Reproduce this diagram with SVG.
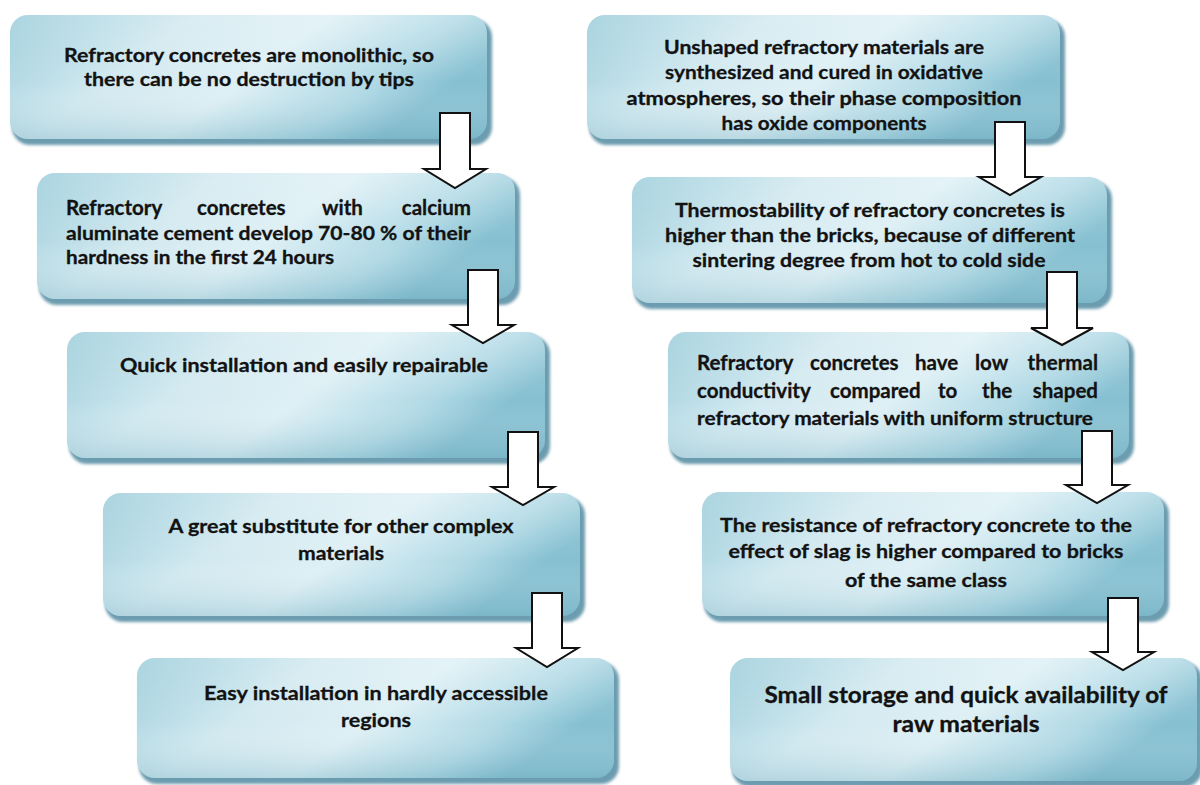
<svg xmlns="http://www.w3.org/2000/svg" width="1200" height="785" viewBox="0 0 1200 785">
  <defs>
    <linearGradient id="face" x1="0" y1="0" x2="1" y2="0.35">
      <stop offset="0" stop-color="#97cbd9"/>
      <stop offset="0.35" stop-color="#d2e9f0"/>
      <stop offset="0.6" stop-color="#def0f5"/>
      <stop offset="0.85" stop-color="#b0d9e5"/>
      <stop offset="1" stop-color="#86c0d1"/>
    </linearGradient>
    <linearGradient id="shade" x1="0" y1="0" x2="0" y2="1">
      <stop offset="0" stop-color="#ffffff" stop-opacity="0.2"/>
      <stop offset="0.55" stop-color="#ffffff" stop-opacity="0"/>
      <stop offset="1" stop-color="#5f9fb3" stop-opacity="0.28"/>
    </linearGradient>
    <filter id="soft" x="-5%" y="-10%" width="110%" height="125%">
      <feGaussianBlur stdDeviation="1.6"/>
    </filter>
  </defs>
  <style>
    .shadow { fill: #6c9caf; filter: url(#soft); }
    .face { fill: url(#face); }
    .gloss { fill: url(#shade); }
    .t { font-family: "Lato", "Open Sans", sans-serif; font-weight: bold; font-size: 19.5px; fill: #121212; stroke: #121212; stroke-width: 0.3px; }
    .w { font-size: 20.5px; }
    .c { text-anchor: middle; }
    .e { text-anchor: end; }
    .big { font-size: 22px; }
    .arrow { fill: #ffffff; stroke: #111111; stroke-width: 2; stroke-linejoin: miter; }
  </style>
  <rect width="1200" height="785" fill="#ffffff"/>

  <!-- left column -->
  <g id="node-l1">
    <rect class="shadow" x="12" y="19" width="480" height="126" rx="18"/>
    <rect class="face" x="10" y="15" width="477" height="124" rx="18"/>
    <rect class="gloss" x="10" y="15" width="477" height="124" rx="18"/>
    <text class="t c" x="249" y="62" textLength="370" lengthAdjust="spacingAndGlyphs">Refractory concretes are monolithic, so</text>
    <text class="t c" x="249" y="86" textLength="330" lengthAdjust="spacingAndGlyphs">there can be no destruction by tips</text>
  </g>
  <g id="node-l2">
    <rect class="shadow" x="39" y="177" width="481" height="128" rx="18"/>
    <rect class="face" x="37" y="173" width="478" height="126" rx="18"/>
    <rect class="gloss" x="37" y="173" width="478" height="126" rx="18"/>
    <text class="t w" x="66" y="215">Refractory</text>
    <text class="t w" x="197" y="215">concretes</text>
    <text class="t w" x="322" y="215">with</text>
    <text class="t w e" x="471" y="215">calcium</text>
    <text class="t" x="66" y="240" textLength="405" lengthAdjust="spacingAndGlyphs">aluminate cement develop 70-80 % of their</text>
    <text class="t" x="66" y="264" textLength="268" lengthAdjust="spacingAndGlyphs">hardness in the first 24 hours</text>
  </g>
  <g id="node-l3">
    <rect class="shadow" x="69" y="336" width="481" height="128" rx="18"/>
    <rect class="face" x="67" y="332" width="478" height="126" rx="18"/>
    <rect class="gloss" x="67" y="332" width="478" height="126" rx="18"/>
    <text class="t c" x="304" y="372" textLength="368" lengthAdjust="spacingAndGlyphs">Quick installation and easily repairable</text>
  </g>
  <g id="node-l4">
    <rect class="shadow" x="105" y="497" width="480" height="125" rx="18"/>
    <rect class="face" x="103" y="493" width="477" height="123" rx="18"/>
    <rect class="gloss" x="103" y="493" width="477" height="123" rx="18"/>
    <text class="t c" x="341" y="533" textLength="345" lengthAdjust="spacingAndGlyphs">A great substitute for other complex</text>
    <text class="t c" x="341" y="560" textLength="86" lengthAdjust="spacingAndGlyphs">materials</text>
  </g>
  <g id="node-l5">
    <rect class="shadow" x="139" y="662" width="480" height="122" rx="18"/>
    <rect class="face" x="137" y="658" width="477" height="120" rx="18"/>
    <rect class="gloss" x="137" y="658" width="477" height="120" rx="18"/>
    <text class="t c" x="376" y="700" textLength="344" lengthAdjust="spacingAndGlyphs">Easy installation in hardly accessible</text>
    <text class="t c" x="376" y="727" textLength="70" lengthAdjust="spacingAndGlyphs">regions</text>
  </g>

  <!-- right column -->
  <g id="node-r1">
    <rect class="shadow" x="589" y="19" width="476" height="126" rx="18"/>
    <rect class="face" x="587" y="15" width="473" height="124" rx="18"/>
    <rect class="gloss" x="587" y="15" width="473" height="124" rx="18"/>
    <text class="t c" x="824" y="54" textLength="320" lengthAdjust="spacingAndGlyphs">Unshaped refractory materials are</text>
    <text class="t c" x="824" y="79" textLength="318" lengthAdjust="spacingAndGlyphs">synthesized and cured in oxidative</text>
    <text class="t c" x="824" y="105" textLength="395" lengthAdjust="spacingAndGlyphs">atmospheres, so their phase composition</text>
    <text class="t c" x="824" y="130" textLength="205" lengthAdjust="spacingAndGlyphs">has oxide components</text>
  </g>
  <g id="node-r2">
    <rect class="shadow" x="634" y="181" width="478" height="128" rx="18"/>
    <rect class="face" x="632" y="177" width="475" height="126" rx="18"/>
    <rect class="gloss" x="632" y="177" width="475" height="126" rx="18"/>
    <text class="t c" x="870" y="217" textLength="390" lengthAdjust="spacingAndGlyphs">Thermostability of refractory concretes is</text>
    <text class="t c" x="870" y="242" textLength="410" lengthAdjust="spacingAndGlyphs">higher than the bricks, because of different</text>
    <text class="t c" x="869" y="267" textLength="353" lengthAdjust="spacingAndGlyphs">sintering degree from hot to cold side</text>
  </g>
  <g id="node-r3">
    <rect class="shadow" x="670" y="336" width="464" height="128" rx="18"/>
    <rect class="face" x="668" y="332" width="461" height="126" rx="18"/>
    <rect class="gloss" x="668" y="332" width="461" height="126" rx="18"/>
    <text class="t w" x="697" y="370">Refractory</text>
    <text class="t w" x="810" y="370">concretes</text>
    <text class="t w" x="915" y="370">have</text>
    <text class="t w" x="975" y="370">low</text>
    <text class="t w e" x="1098" y="370">thermal</text>
    <text class="t w" x="697" y="398">conductivity</text>
    <text class="t w" x="830" y="398">compared</text>
    <text class="t w" x="938" y="398">to</text>
    <text class="t w" x="982" y="398">the</text>
    <text class="t w e" x="1098" y="398">shaped</text>
    <text class="t" x="697" y="425" textLength="396" lengthAdjust="spacingAndGlyphs">refractory materials with uniform structure</text>
  </g>
  <g id="node-r4">
    <rect class="shadow" x="704" y="496" width="465" height="126" rx="18"/>
    <rect class="face" x="702" y="492" width="462" height="124" rx="18"/>
    <rect class="gloss" x="702" y="492" width="462" height="124" rx="18"/>
    <text class="t c" x="926" y="532" textLength="412" lengthAdjust="spacingAndGlyphs">The resistance of refractory concrete to the</text>
    <text class="t c" x="926" y="558" textLength="395" lengthAdjust="spacingAndGlyphs">effect of slag is higher compared to bricks</text>
    <text class="t c" x="926" y="587" textLength="162" lengthAdjust="spacingAndGlyphs">of the same class</text>
  </g>
  <g id="node-r5">
    <rect class="shadow" x="732" y="662" width="470" height="125" rx="18"/>
    <rect class="face" x="730" y="658" width="467" height="123" rx="18"/>
    <rect class="gloss" x="730" y="658" width="467" height="123" rx="18"/>
    <text class="t c big" x="966" y="703" textLength="403" lengthAdjust="spacingAndGlyphs">Small storage and quick availability of</text>
    <text class="t c big" x="966" y="732" textLength="147" lengthAdjust="spacingAndGlyphs">raw materials</text>
  </g>

  <!-- block arrows between steps -->
  <g id="connectors">
    <path class="arrow" d="M440,113 H470 V169 H486 L455,188 L424,169 H440 Z"/>
    <path class="arrow" d="M468,270 H498 V325 H514 L483,343 L452,325 H468 Z"/>
    <path class="arrow" d="M508,432 H538 V487 H554 L523,505 L492,487 H508 Z"/>
    <path class="arrow" d="M532,593 H562 V648 H578 L547,667 L516,648 H532 Z"/>
    <path class="arrow" d="M995,122 H1025 V177 H1041 L1010,195 L979,177 H995 Z"/>
    <path class="arrow" d="M1047,272 H1077 V328 H1093 L1062,345 L1031,328 H1047 Z"/>
    <path class="arrow" d="M1082,431 H1112 V485 H1128 L1097,503 L1066,485 H1082 Z"/>
    <path class="arrow" d="M1108,598 H1138 V652 H1154 L1123,670 L1092,652 H1108 Z"/>
  </g>
</svg>
